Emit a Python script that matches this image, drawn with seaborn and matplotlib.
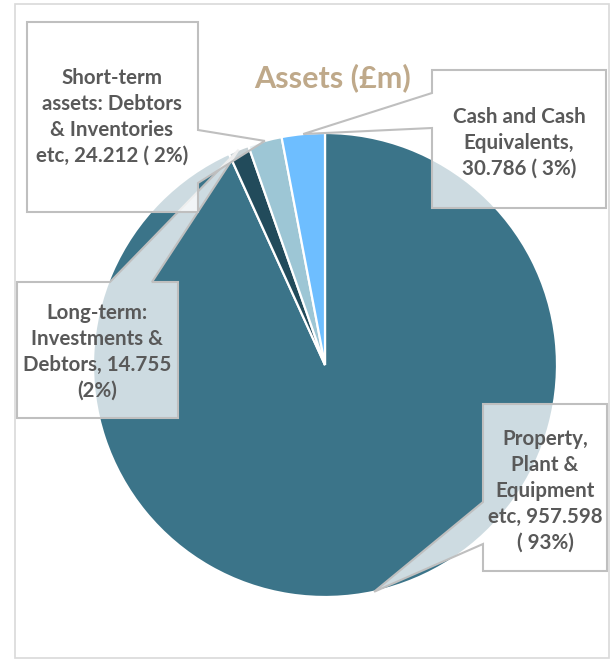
import numpy as np
import matplotlib
matplotlib.use("Agg")
import matplotlib.pyplot as plt
from matplotlib.patches import Polygon, Rectangle
import seaborn as sns

# ---- data ----
categories = ["Property, Plant & Equipment etc",
              "Long-term: Investments & Debtors",
              "Short-term assets: Debtors & Inventories etc",
              "Cash and Cash Equivalents"]
values = [957.598, 14.755, 24.212, 30.786]
label_texts = ["Property,\nPlant &\nEquipment\netc, 957.598\n( 93%)",
               "Long-term:\nInvestments &\nDebtors, 14.755\n(2%)",
               "Short-term\nassets: Debtors\n& Inventories\netc, 24.212 ( 2%)",
               "Cash and Cash\nEquivalents,\n30.786 ( 3%)"]
colors = ["#3B7489", "#224B5B", "#9DC6D5", "#6EBEFF"]
title = "Assets (£m)"

sns.set_theme(style="white")
plt.rcParams['font.family'] = ['Lato', 'DejaVu Sans']

W, H = 610, 661
fig = plt.figure(figsize=(W / 100, H / 100), dpi=100)
fig.patch.set_facecolor("white")
ax = fig.add_axes([0, 0, 1, 1])


def Y(y):
    return H - y


cx, cy, R = 325, Y(365), 232
wedges, _ = ax.pie(values, colors=colors, startangle=90, counterclock=False,
                   center=(cx, cy), radius=R,
                   wedgeprops=dict(edgecolor="white", linewidth=1.6))

# tips at wedge mid-angles on the rim
tips = []
for w in wedges:
    mid = np.deg2rad((w.theta1 + w.theta2) / 2)
    tips.append((cx + R * np.cos(mid), cy + R * np.sin(mid)))

# layout of callouts (pixel coords, y from top)
# (left, top, right, bottom, side, base_a, base_b, text_x, text_y)
layout = [
    (483, 404, 607, 571, "left", 502, 544, 545, 491),
    (17, 282, 178, 418, "top", 110, 152, 97, 352),
    (27, 22, 198, 212, "right", 130, 183, 112, 117),
    (432, 70, 606, 208, "left", 93, 128, 519, 143),
]

for (l, t, r, b, side, a1, a2, tx, ty), tip, txt in zip(layout, tips, label_texts):
    if side == "left":
        pts = [(l, Y(t)), (r, Y(t)), (r, Y(b)), (l, Y(b)), (l, Y(a2)), tip, (l, Y(a1))]
    elif side == "right":
        pts = [(l, Y(t)), (r, Y(t)), (r, Y(a1)), tip, (r, Y(a2)), (r, Y(b)), (l, Y(b))]
    else:  # top
        pts = [(l, Y(t)), (a1, Y(t)), tip, (a2, Y(t)), (r, Y(t)), (r, Y(b)), (l, Y(b))]
    ax.add_patch(Polygon(pts, closed=True, facecolor=(1, 1, 1, 0.75),
                         edgecolor="#BFBFBF", linewidth=1.5, zorder=5,
                         joinstyle="miter"))
    ax.text(tx, Y(ty), txt, ha="center", va="center", fontsize=14.8,
            fontweight="bold", color="#595959", linespacing=1.36, zorder=6)

ax.text(333, Y(78), title, ha="center", va="center", fontsize=22,
        fontweight="bold", color="#BFA98A", zorder=6)

# outer chart border
ax.add_patch(Rectangle((15, Y(658)), 594, 654, fill=False,
                       edgecolor="#D9D9D9", linewidth=1.2, zorder=7))

ax.set_xlim(0, W)
ax.set_ylim(0, H)
ax.set_aspect("equal")
ax.axis("off")

fig.savefig("out.png", dpi=100, facecolor="white")
